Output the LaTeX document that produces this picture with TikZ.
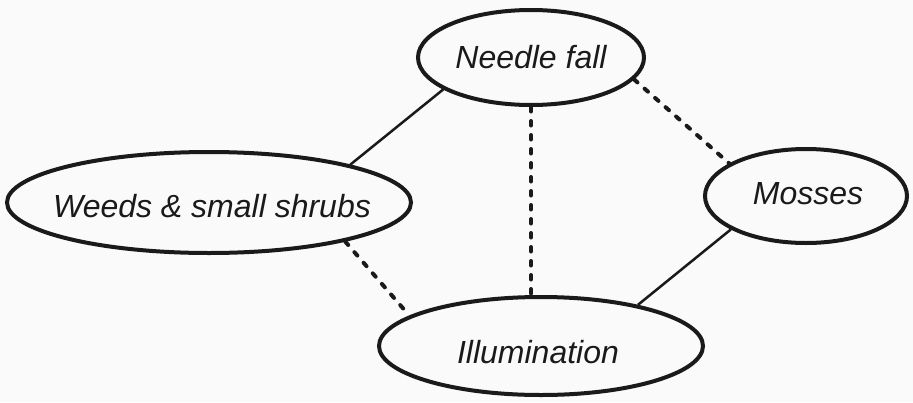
\documentclass[tikz,border=0pt]{standalone}
\usepackage{fontspec}
\setmainfont{Liberation Sans}
\usetikzlibrary{shapes.geometric}
\definecolor{bgcol}{HTML}{FAFAFA}
\definecolor{inkcol}{HTML}{1A1A1A}
\begin{document}
\begin{tikzpicture}[x=1pt,y=-1pt,
  oval/.style={ellipse, draw=inkcol, line width=4pt, inner sep=0pt},
  lbl/.style={font=\fontsize{32}{38}\selectfont\itshape, text=inkcol, inner sep=0pt},
  solidlink/.style={draw=inkcol, line width=2.5pt},
  dashlink/.style={draw=inkcol, line width=4pt, line cap=round, dash pattern=on 4.5pt off 9.5pt}]
\fill[bgcol] (0,0) rectangle (913,402);
\useasboundingbox (0,0) rectangle (913,402);
\node[oval, minimum width=226pt, minimum height=95pt,
  label={[lbl]center:Needle fall}] (needle) at (531,57.5) {};
\node[oval, minimum width=404pt, minimum height=101pt,
  label={[lbl, yshift=-3.5pt, xshift=3pt]center:Weeds \& small shrubs}] (weeds) at (209,202.5) {};
\node[oval, minimum width=202pt, minimum height=94pt,
  label={[lbl, yshift=2pt, xshift=2pt]center:Mosses}] (mosses) at (806,196) {};
\node[oval, minimum width=324pt, minimum height=98pt,
  label={[lbl, yshift=-6pt, xshift=-3pt]center:Illumination}] (illum) at (541,346) {};
\draw[solidlink] (needle.200) -- (weeds.15);
\draw[dashlink] (needle.south) -- (needle.south |- illum.north);
\draw[dashlink] (needle.348) -- (mosses.157);
\draw[dashlink] (weeds.344) -- (illum.167);
\draw[solidlink] (mosses.204) -- (illum.23);
\end{tikzpicture}
\end{document}
